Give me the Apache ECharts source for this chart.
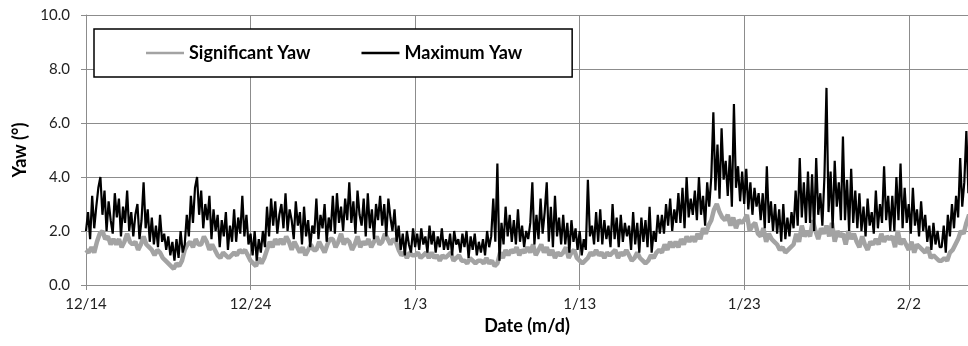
<!DOCTYPE html>
<html>
<head>
<meta charset="utf-8">
<script src="https://cdn.jsdelivr.net/npm/echarts@6/dist/echarts.min.js"></script>
<style>
html,body{margin:0;padding:0;background:#fff;}
#chart{width:968px;height:346px;}
</style>
</head>
<body>
<div id="chart"></div>
<script>
// x tick labels (every 10 days starting 12/14)
const xTickLabels = ['12/14', '12/24', '1/3', '1/13', '1/23', '2/2'];
const seriesNames = ['Significant Yaw', 'Maximum Yaw'];

// Significant Yaw: 6 readings per day (every 4 h) from 12/14 00:00
const sigYaw = [
  1.3, 1.2, 1.4, 1.2, 1.6, 1.9,
  2.0, 1.7, 1.8, 1.5, 1.7, 1.5,
  1.7, 1.4, 1.6, 1.9, 1.6, 1.5,
  1.6, 1.3, 1.5, 1.8, 1.5, 1.4,
  1.3, 1.1, 1.3, 1.2, 1.0, 0.9,
  0.8, 0.7, 0.6, 0.8, 0.7, 0.9,
  1.3, 1.5, 1.6, 1.4, 1.7, 1.5,
  1.5, 1.8, 1.6, 1.3, 1.5, 1.3,
  1.1, 1.0, 1.2, 1.1, 1.0, 1.1,
  1.2, 1.1, 1.3, 1.2, 1.3, 1.1,
  0.9, 0.8, 0.7, 1.0, 0.8, 1.0,
  1.3, 1.6, 1.4, 1.7, 1.5, 1.7,
  1.5, 1.8, 1.6, 1.3, 1.6, 1.4,
  1.2, 1.4, 1.1, 1.3, 1.5, 1.3,
  1.3, 1.6, 1.4, 1.2, 1.5, 1.7,
  1.7, 1.4, 1.6, 1.9, 1.5, 1.7,
  1.6, 1.3, 1.5, 1.8, 1.4, 1.6,
  1.5, 1.7, 1.4, 1.6, 1.8, 1.5,
  1.6, 1.9, 1.7, 1.5, 1.7, 1.6,
  1.3, 1.1, 1.2, 1.0, 1.2, 1.1,
  1.1, 1.2, 1.0, 1.1, 1.2, 1.0,
  1.2, 1.0, 1.1, 0.9, 1.1, 1.0,
  1.1, 1.2, 0.9, 1.0, 1.1, 0.9,
  0.9, 0.8, 1.0, 0.9, 0.8, 0.9,
  0.9, 0.8, 1.0, 0.8, 0.9, 0.7,
  0.8, 1.2, 1.0, 1.3, 1.1, 1.3,
  1.2, 1.4, 1.1, 1.3, 1.2, 1.4,
  1.2, 1.5, 1.1, 1.3, 1.5, 1.2,
  1.4, 1.1, 1.3, 1.0, 1.2, 1.1,
  1.2, 1.4, 1.0, 1.2, 1.3, 1.0,
  0.9, 0.8, 0.9, 1.0, 1.2, 1.1,
  1.3, 1.1, 1.2, 1.0, 1.2, 1.1,
  1.2, 1.3, 1.0, 1.2, 1.1, 1.3,
  1.1, 0.9, 1.0, 1.2, 1.0, 0.9,
  0.8, 0.9, 1.1, 1.0, 1.2, 1.3,
  1.2, 1.5, 1.3, 1.6, 1.4, 1.6,
  1.4, 1.7, 1.5, 1.8, 1.6, 1.8,
  1.6, 1.9, 1.7, 2.1, 1.9, 2.2,
  2.4, 2.8, 3.0, 2.7, 2.5, 2.4,
  2.6, 2.2, 2.5, 2.1, 2.4, 2.3,
  2.4, 2.6, 2.0, 2.2, 2.3, 1.9,
  1.8, 2.1, 1.6, 1.9, 1.7, 1.6,
  1.5, 1.3, 1.4, 1.2, 1.3, 1.4,
  1.5, 1.9, 1.6, 2.2, 1.8, 2.0,
  1.8, 2.4, 2.0, 1.7, 2.1, 1.9,
  2.2, 1.8, 2.3, 1.6, 2.0, 1.8,
  1.9, 1.5, 2.0, 1.7, 1.9, 1.6,
  1.4, 1.8, 1.5, 1.3, 1.6, 1.5,
  1.7, 1.5, 1.9, 1.6, 1.8, 1.7,
  1.8, 1.4, 2.0, 1.5, 1.7, 1.5,
  1.3, 1.6, 1.2, 1.5, 1.4, 1.3,
  1.2, 1.4, 1.0, 1.1, 1.0, 0.9,
  0.9, 1.0, 0.9, 1.2, 1.3, 1.5,
  1.7, 2.0, 1.9, 2.3, 2.6, 2.4
];

// Maximum Yaw: 8 readings per day (every 3 h) from 12/14 00:00
const maxYaw = [
  2.0, 2.7, 1.7, 3.3, 2.1, 2.9, 3.6, 4.0,
  2.6, 3.5, 2.0, 3.1, 2.4, 1.9, 3.4, 2.5,
  3.2, 1.8, 2.9, 2.3, 3.5, 2.0, 2.7, 1.8,
  2.6, 3.0, 1.7, 2.4, 3.8, 2.1, 2.8, 1.6,
  2.5, 1.5, 2.2, 1.4, 2.6, 1.6, 1.9, 1.3,
  1.8, 1.1, 1.6, 0.9, 1.7, 1.0, 2.0, 1.2,
  1.5, 2.6, 1.8, 3.3, 2.3, 3.6, 4.0, 2.6,
  3.5, 2.1, 3.0, 2.4, 3.3, 1.7, 2.8, 2.0,
  2.6, 1.4, 2.4, 1.8, 2.7, 1.3, 2.2, 1.6,
  2.8, 1.6, 2.5, 1.9, 3.3, 1.8, 2.6, 1.5,
  1.9, 1.1, 2.0, 0.9, 1.7, 1.2, 2.0, 1.4,
  2.9, 1.8, 3.2, 2.2, 3.1, 1.9, 2.6, 3.0,
  2.1, 3.4, 2.0, 2.8, 2.4, 1.7, 3.1, 2.2,
  2.7, 1.5, 2.9, 1.8, 2.4, 1.4, 2.2, 1.9,
  3.2, 1.7, 2.6, 2.1, 3.0, 1.6, 2.5, 2.0,
  3.3, 1.9, 3.4, 2.3, 2.9, 2.0, 3.2, 2.4,
  3.8, 2.3, 3.1, 1.9, 3.5, 2.6, 2.2, 3.2,
  1.8, 3.4, 2.1, 2.8, 1.7, 3.0, 2.4, 3.3,
  2.2, 3.0, 1.8, 3.2, 2.5, 2.0, 2.8, 1.6,
  2.2, 1.3, 1.9, 1.1, 2.0, 1.5, 1.2, 2.1,
  1.4, 1.9, 1.3, 2.1, 1.5, 1.8, 1.2, 2.2,
  1.5, 2.0, 1.2, 1.8, 1.4, 2.1, 1.3, 1.7,
  1.3, 1.9, 1.1, 2.0, 1.5, 1.7, 1.2, 1.9,
  1.4, 2.0, 1.0, 1.8, 1.3, 1.9, 1.1, 1.6,
  1.2, 1.7, 1.1, 2.0, 1.4, 1.8, 3.2, 1.6,
  4.5, 0.9, 2.3, 1.5, 2.9, 1.8, 2.6, 1.6,
  2.4, 1.5, 2.8, 1.6, 2.2, 1.4, 2.0, 1.7,
  2.3, 3.8, 1.5, 2.6, 1.7, 3.2, 1.9, 2.7,
  3.8, 1.6, 2.9, 1.4, 3.3, 1.8, 2.5, 1.5,
  2.6, 1.5, 2.3, 1.2, 2.4, 1.6, 2.1, 1.3,
  2.0, 1.1, 1.7, 1.3, 3.9, 1.8, 2.2, 1.5,
  2.7, 1.6, 2.8, 1.5, 2.4, 1.7, 2.2, 1.4,
  3.0, 1.7, 2.5, 1.4, 2.6, 1.6, 2.3, 1.8,
  2.2, 1.3, 2.7, 1.5, 2.3, 1.2, 2.5, 1.6,
  2.4, 1.4, 2.9, 1.2, 2.0, 1.6, 2.6, 1.9,
  2.6, 1.9, 3.0, 2.2, 3.2, 2.0, 2.8, 2.3,
  3.4, 2.3, 3.6, 2.1, 4.0, 2.5, 3.2, 2.6,
  3.5, 2.4, 4.0, 2.6, 3.3, 2.2, 3.8, 2.9,
  4.0, 6.4, 3.5, 5.2, 3.2, 5.8, 3.9, 4.6,
  3.3, 4.8, 2.9, 6.7, 3.6, 4.4, 3.1, 4.2,
  3.0, 4.3, 2.8, 3.8, 2.6, 3.6, 2.9, 3.4,
  2.4, 3.4, 2.1, 4.4, 2.3, 3.1, 2.0, 3.0,
  1.9, 2.8, 1.6, 3.0, 1.7, 2.5, 1.8, 2.7,
  2.1, 3.5, 2.2, 4.7, 2.5, 3.8, 2.3, 4.2,
  2.3, 4.1, 2.0, 4.7, 2.6, 3.4, 2.2, 4.0,
  7.3, 2.7, 4.2, 2.1, 4.6, 2.9, 3.8, 2.4,
  5.5, 2.4, 3.9, 2.0, 4.3, 2.3, 3.5, 2.1,
  3.4, 2.0, 2.9, 1.8, 3.2, 2.2, 2.7, 1.9,
  3.5, 2.1, 3.0, 2.3, 4.4, 2.4, 3.3, 2.0,
  3.3, 2.0, 4.0, 2.4, 4.5, 2.1, 3.6, 2.3,
  3.0, 1.9, 3.6, 2.2, 2.8, 1.8, 3.1, 2.0,
  2.6, 1.6, 2.2, 1.3, 2.3, 1.5, 2.0, 1.4,
  1.4, 2.2, 1.2, 2.6, 1.8, 3.0, 2.1, 3.3,
  2.5, 4.7, 2.9, 3.8, 5.7, 3.4, 4.2, 3.6
];

const sigData = sigYaw.map((v, i) => [i / 6, v]);
const maxData = maxYaw.map((v, i) => [i / 8, v]);

const chart = echarts.init(document.getElementById('chart'), null, {renderer: 'canvas'});
const gridColor = '#8c8c8c';
const labelFont = 'Lato';
const sigColor = '#a3a3a3';
const maxColor = '#000000';

chart.setOption({
  animation: false,
  backgroundColor: '#ffffff',
  grid: {left: 86, right: 0, top: 15, bottom: 61, containLabel: false},
  legend: {
    data: [
      {name: seriesNames[0], icon: 'rect', itemStyle: {color: sigColor}},
      {name: seriesNames[1], icon: 'rect', itemStyle: {color: maxColor}}
    ],
    left: 94,
    top: 29,
    orient: 'horizontal',
    padding: [15, 50, 15, 52],
    itemGap: 51,
    itemWidth: 38,
    itemHeight: 2.5,
    borderColor: '#000000',
    borderWidth: 1.5,
    backgroundColor: '#ffffff',
    textStyle: {fontFamily: labelFont, fontWeight: 'bold', fontSize: 18, color: '#000000', padding: [0, 0, 0, 0]}
  },
  xAxis: {
    type: 'value',
    min: 0,
    max: 53.6,
    interval: 10,
    name: 'Date (m/d)',
    nameLocation: 'middle',
    nameGap: 32,
    nameTextStyle: {fontFamily: labelFont, fontWeight: 'bold', fontSize: 18, color: '#000000'},
    axisLine: {show: true, lineStyle: {color: gridColor, width: 1}},
    axisTick: {show: true, length: 5, lineStyle: {color: gridColor}},
    axisLabel: {
      margin: 12,
      fontFamily: labelFont,
      fontSize: 15,
      color: '#222222',
      showMaxLabel: false,
      formatter: function (v) {
        if (Math.abs(v % 10) > 1e-6) return '';
        const idx = Math.round(v / 10);
        return xTickLabels[idx] || '';
      }
    },
    splitLine: {show: true, showMinLine: false, showMaxLine: false, lineStyle: {color: gridColor, width: 1}}
  },
  yAxis: {
    type: 'value',
    min: 0,
    max: 10,
    interval: 2,
    name: 'Yaw (°)',
    nameLocation: 'middle',
    nameGap: 57,
    nameTextStyle: {fontFamily: labelFont, fontWeight: 'bold', fontSize: 18, color: '#000000'},
    axisLine: {show: true, lineStyle: {color: gridColor, width: 1}},
    axisTick: {show: true, length: 5, lineStyle: {color: gridColor}},
    axisLabel: {
      margin: 16,
      fontFamily: labelFont,
      fontSize: 15,
      color: '#222222',
      formatter: v => v.toFixed(1)
    },
    splitLine: {show: true, lineStyle: {color: gridColor, width: 1}}
  },
  series: [
    {
      name: seriesNames[0],
      type: 'line',
      data: sigData,
      symbol: 'none',
      showSymbol: false,
      clip: true,
      color: sigColor,
      lineStyle: {color: sigColor, width: 4.5}
    },
    {
      name: seriesNames[1],
      type: 'line',
      data: maxData,
      symbol: 'none',
      showSymbol: false,
      clip: true,
      color: maxColor,
      lineStyle: {color: maxColor, width: 2.2}
    }
  ]
});
</script>
</body>
</html>
